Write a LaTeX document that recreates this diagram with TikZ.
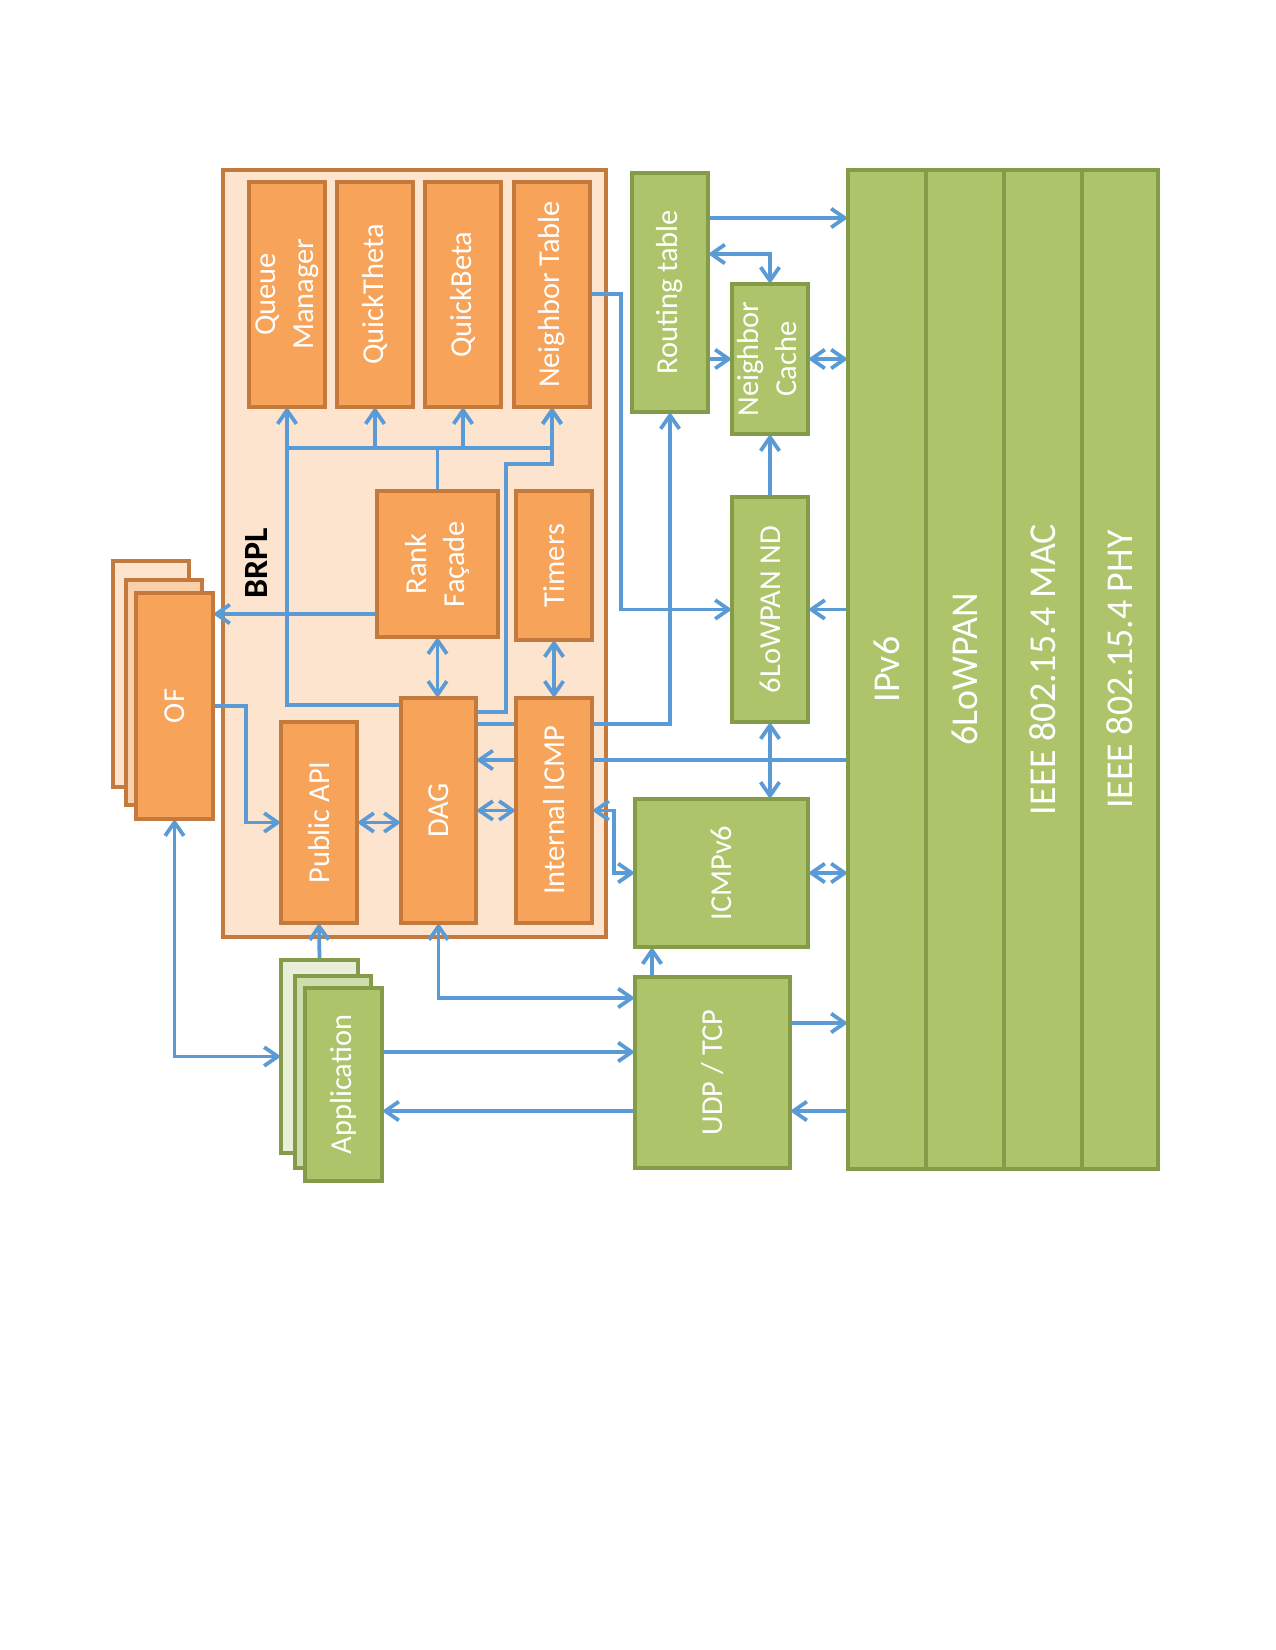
\documentclass[tikz,border=0pt]{standalone}
\usepackage{fontspec}
\setmainfont{Carlito}
\usepackage{graphicx}
\usetikzlibrary{arrows.meta,calc}
\pgfdeclarelayer{bg}
\pgfdeclarelayer{lines}
\pgfsetlayers{bg,lines,main}

\definecolor{ofill}{RGB}{247,163,89}
\definecolor{oline}{RGB}{196,122,60}
\definecolor{oframe}{RGB}{252,228,207}
\definecolor{omid}{RGB}{250,208,170}
\definecolor{gfill}{RGB}{173,196,107}
\definecolor{gline}{RGB}{132,156,74}
\definecolor{gback}{RGB}{232,238,216}
\definecolor{gmid}{RGB}{206,221,171}
\definecolor{lblue}{RGB}{91,155,213}

\newcommand\mkbox[7]{\node[#6,minimum width={(#4-#2)*0.48pt},minimum height={(#5-#3)*0.48pt}] (#1) at ({(#2+#4)/2},{(#3+#5)/2}) {#7};}
\newcommand\vone[1]{\rotatebox{90}{#1}}
\newcommand\vtwo[2]{\rotatebox{90}{\begin{tabular}{@{}c@{}}#1\\#2\end{tabular}}}

\tikzset{
  base/.style={rectangle,inner sep=0pt,outer sep=0pt,line width=1.8pt,text=white,
    font=\fontsize{14.6}{18.2}\selectfont},
  obox/.style={base,draw=oline,fill=ofill},
  obg/.style={base,draw=oline,fill=oframe},
  omd/.style={base,draw=oline,fill=omid},
  gbox/.style={base,draw=gline,fill=gfill},
  gbg/.style={base,draw=gline,fill=gback},
  gmd/.style={base,draw=gline,fill=gmid},
  bigg/.style={gbox,font=\fontsize{18.2}{22}\selectfont},
  conn/.style={draw=lblue,line width=1.8pt},
  >={Straight Barb[length=6.5pt,width=9pt]}
}

\begin{document}
\begin{tikzpicture}[x=0.48pt,y=-0.48pt]
\begin{pgfonlayer}{bg}
\fill[white] (0,0) rectangle (1275,1650);
\end{pgfonlayer}
\useasboundingbox (0,0) rectangle (1275,1650);

% BRPL frame
\begin{pgfonlayer}{bg}
\mkbox{frame}{223}{170}{606}{937}{obg}{}
\end{pgfonlayer}
\node[inner sep=0pt,font=\bfseries\fontsize{16.3}{19}\selectfont] (brpl) at (256,563) {\vone{BRPL}};

% orange boxes
\mkbox{qm}{249}{182}{325}{407}{obox}{\vtwo{Queue}{Manager}}
\mkbox{qt}{337}{182}{413}{407}{obox}{\vone{QuickTheta}}
\mkbox{qb}{425}{182}{501}{407}{obox}{\vone{QuickBeta}}
\mkbox{nt}{514}{182}{590}{407}{obox}{\vone{Neighbor Table}}
\mkbox{rank}{377}{491}{498}{637}{obox}{\vtwo{Rank}{Façade}}
\mkbox{timers}{516}{491}{592}{640}{obox}{\vone{Timers}}
\mkbox{papi}{281}{722}{357}{923}{obox}{\vone{Public API}}
\mkbox{dag}{401}{698}{476}{923}{obox}{\vone{DAG}}
\mkbox{iicmp}{516}{698}{592}{923}{obox}{\vone{Internal ICMP}}

% OF stack
\mkbox{of3}{113}{561}{189}{787}{obg}{}
\mkbox{of2}{126}{580}{202}{805}{omd}{}
\mkbox{of}{136}{593}{213}{819}{obox}{\vone{OF}}

% Application stack
\mkbox{app3}{281}{960}{358}{1153}{gbg}{}
\mkbox{app2}{295}{976}{371}{1168}{gmd}{}
\mkbox{app}{305}{988}{382}{1181}{gbox}{\vone{Application}}

% green boxes
\mkbox{rt}{632}{173}{708}{412}{gbox}{\vone{Routing table}}
\mkbox{nc}{732}{284}{808}{434}{gbox}{\vtwo{Neighbor}{Cache}}
\mkbox{nd}{732}{497}{808}{722}{gbox}{\vone{6LoWPAN ND}}
\mkbox{icmpv6}{635}{799}{808}{947}{gbox}{\vone{ICMPv6}}
\mkbox{udp}{635}{977}{790}{1168}{gbox}{\vone{UDP / TCP}}

% stack columns
\mkbox{ipv6}{848}{170}{926}{1169}{bigg}{\vone{IPv6}}
\mkbox{lowpan}{926}{170}{1004}{1169}{bigg}{\vone{6LoWPAN}}
\mkbox{mac}{1004}{170}{1082}{1169}{bigg}{\vone{IEEE 802.15.4 MAC}}
\mkbox{phy}{1082}{170}{1158}{1169}{bigg}{\vone{IEEE 802.15.4 PHY}}

% connectors
\begin{pgfonlayer}{lines}
\draw[conn,->] (dag.west |- 0,705) -| (qm.south);
\draw[conn] (qm.south |- 0,448) -- (nt.south |- 0,448);
\draw[conn] (rank.north) -- (rank.north |- 0,448);
\draw[conn,->] (qt.south |- 0,448) -- (qt.south);
\draw[conn,->] (qb.south |- 0,448) -- (qb.south);
\draw[conn,->] (nt.south |- 0,448) -- (nt.south);
\draw[conn,->] (dag.east |- 0,712) -| (506,464) -| (nt.south);
\draw[conn,->] (rank.west |- 0,614) -- (of.east |- 0,614);
\draw[conn,->] (of.east) -- (246,706) |- (papi.west);
\draw[conn,<->] (of.south) |- (app3.west);
\draw[conn,->] (app3.north) -- (papi.south);
\draw[conn,<->] (papi.east) -- (dag.west |- papi.east);
\draw[conn,<->] (rank.south) -- (rank.south |- dag.north);
\draw[conn,<->] (timers.south) -- (timers.south |- iicmp.north);
\draw[conn,->] (dag.east |- 0,724) -| (rt.south);
\draw[conn,->] (ipv6.west |- 0,760) -- (dag.east |- 0,760);
\draw[conn,<->] (dag.east) -- (iicmp.west);
\draw[conn,<->] (iicmp.east) -- (614,810.5) |- (icmpv6.west);
\draw[conn,<->] (dag.south) |- (udp.west |- 0,998);
\draw[conn,->] (app.east |- 0,1052) -- (udp.west |- 0,1052);
\draw[conn,->] (udp.west |- 0,1111) -- (app.east |- 0,1111);
\draw[conn,->] (udp.north -| 652,0) -- (icmpv6.south -| 652,0);
\draw[conn,->] (udp.east |- 0,1023) -- (ipv6.west |- 0,1023);
\draw[conn,->] (ipv6.west |- 0,1111) -- (udp.east |- 0,1111);
\draw[conn,<->] (icmpv6.east) -- (ipv6.west |- icmpv6.east);
\draw[conn,<->] (nd.south) -- (icmpv6.north -| nd.south);
\draw[conn,->] (ipv6.west |- nd.west) -- (nd.east);
\draw[conn,->] (nt.east |- 0,294) -- (621,294) |- (nd.west);
\draw[conn,->] (nd.north) -- (nc.south);
\draw[conn,->] (rt.east |- nc.west) -- (nc.west);
\draw[conn,<->] (nc.east) -- (ipv6.west |- nc.east);
\draw[conn,<->] (rt.east |- 0,254) -| (nc.north);
\draw[conn,->] (rt.east |- 0,218) -- (ipv6.west |- 0,218);
\end{pgfonlayer}
\end{tikzpicture}
\end{document}
